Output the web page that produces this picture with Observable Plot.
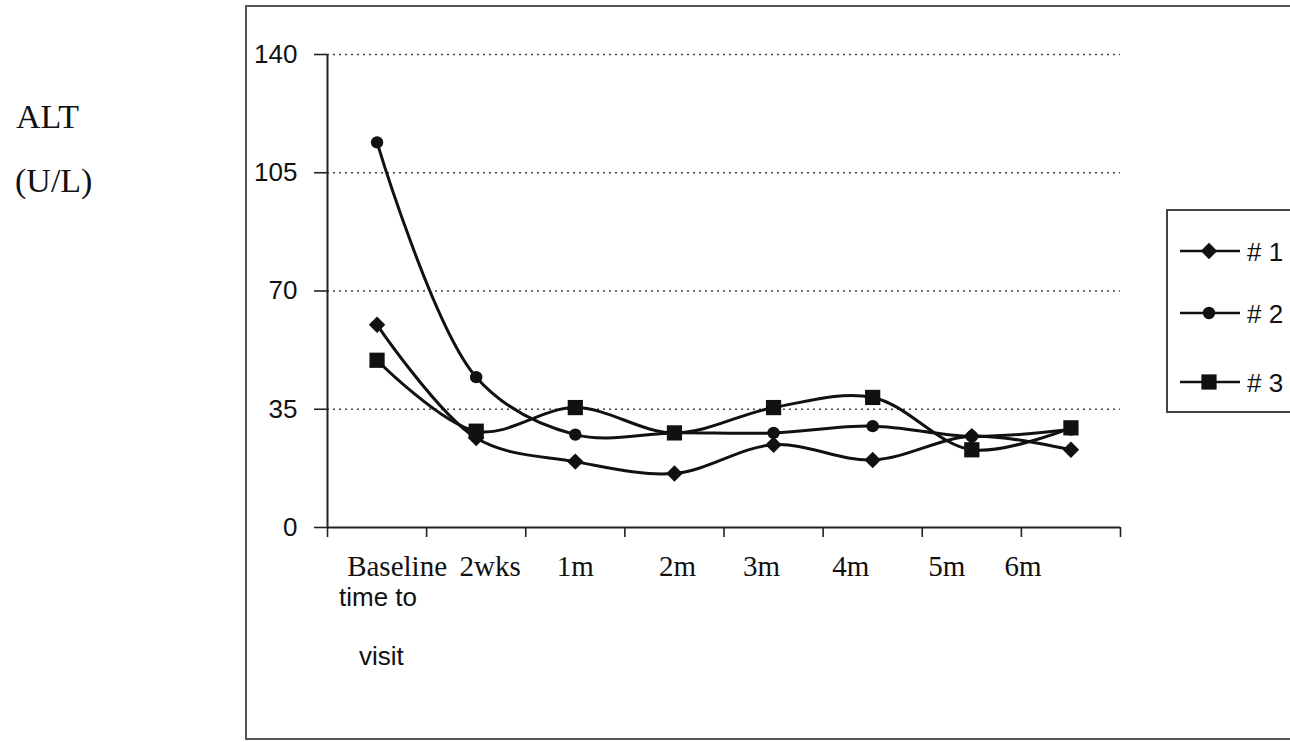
<!DOCTYPE html>
<html>
<head>
<meta charset="utf-8">
<script src="https://cdn.jsdelivr.net/npm/d3@7"></script>
<script src="https://cdn.jsdelivr.net/npm/@observablehq/plot@0.6"></script>
<style>
  html, body { margin: 0; padding: 0; background: #fff; overflow: hidden; }
  #wrap { position: relative; width: 1290px; height: 742px; overflow: hidden; }
  #wrap svg.plot { position: absolute; left: 0; top: 0; }
  .abs { position: absolute; white-space: nowrap; }
  .serif { font-family: "Liberation Serif", "Times New Roman", serif; color: #111; }
  .sans { font-family: "Liberation Sans", Arial, sans-serif; color: #111; }
</style>
</head>
<body>
<div id="wrap"></div>
<script>
// ---- data ----
const visits = ["Baseline", "2wks", "1m", "2m", "3m", "4m", "5m", "6m"];
const seriesNames = ["# 1", "# 2", "# 3"];
const patient1 = [60, 26.5, 19.5, 16, 24.5, 20, 27, 23];
const patient2 = [114, 44.5, 27.5, 28, 28, 30, 27, 29];
const patient3 = [49.5, 28.5, 35.5, 28, 35.5, 38.5, 23, 29.5];
const yTicks = [0, 35, 70, 105, 140];

// ---- layout / style (not data) ----
const symbols = ["diamond2", "circle", "square"];
const radii = [7.4, 6.2, 8.6];
const labelShift = [20, 14, 0, 3, -12, -22, -25, -48];

const allSeries = [patient1, patient2, patient3];
const rows = [];
allSeries.forEach((vals, s) => vals.forEach((v, i) => rows.push({series: seriesNames[s], i, visit: visits[i], v})));

const idx = visits.map((_, i) => i);
const bounds = d3.range(visits.length + 1).map(i => i - 0.5);

const marks = [
  Plot.ruleY(yTicks.filter(t => t > 0), {stroke: "#444", strokeWidth: 1.6, strokeDasharray: "2,4"}),
  Plot.axisY({ticks: yTicks, tickSize: 13, tickPadding: 17, fontSize: 26, label: null,
              fontFamily: "Liberation Sans, Arial, sans-serif", fill: "#111", stroke: "#222", strokeWidth: 1.6}),
  Plot.ruleX([-0.5], {stroke: "#222", strokeWidth: 2}),
  Plot.ruleY([0], {stroke: "#222", strokeWidth: 2}),
  Plot.axisX({ticks: bounds, tickSize: 10, tickFormat: () => "", label: null, stroke: "#222", strokeWidth: 1.6}),
  ...idx.map(i => Plot.axisX({ticks: [i], tickSize: 0, tickPadding: 28, dx: labelShift[i], tickFormat: j => visits[j],
              label: null, fontSize: 29, fontFamily: "Liberation Serif, Times New Roman, serif", fill: "#111"})),
];
seriesNames.forEach((name) => {
  const data = rows.filter(r => r.series === name);
  marks.push(Plot.line(data, {x: "i", y: "v", curve: "catmull-rom", stroke: "#111", strokeWidth: 3}));
});
seriesNames.forEach((name, s) => {
  const data = rows.filter(r => r.series === name);
  marks.push(Plot.dot(data, {x: "i", y: "v", symbol: () => symbols[s], r: radii[s], fill: "#111", stroke: "none"}));
});
const chart = Plot.plot({
  width: 1290,
  height: 742,
  marginLeft: 327,
  marginRight: 170,
  marginTop: 54,
  marginBottom: 215,
  x: {type: "linear", domain: [-0.5, visits.length - 0.5], axis: null},
  y: {domain: [0, 140], axis: null},
  style: {background: "transparent", overflow: "visible"},
  marks
});
chart.classList.add("plot");
const wrap = document.getElementById("wrap");

// outer chart border
const frame = document.createElement("div");
frame.className = "abs";
Object.assign(frame.style, {left: "245px", top: "5px", width: "1100px", height: "735px", border: "2px solid #555", boxSizing: "border-box"});
wrap.appendChild(frame);
wrap.appendChild(chart);

function addText(txt, cls, left, top, size) {
  const d = document.createElement("div");
  d.className = "abs " + cls;
  d.textContent = txt;
  Object.assign(d.style, {left: left + "px", top: top + "px", fontSize: size + "px", lineHeight: "1"});
  wrap.appendChild(d);
}
addText("ALT", "serif", 16, 100, 34);
addText("(U/L)", "serif", 15, 164, 34);
addText("time to", "sans", 339, 584, 26);
addText("visit", "sans", 359, 643, 26);

// legend
const leg = document.createElement("div");
leg.className = "abs";
Object.assign(leg.style, {left: "1166px", top: "209px", width: "200px", height: "204px", border: "2px solid #444", boxSizing: "border-box", background: "#fff"});
wrap.appendChild(leg);
const lsvg = d3.select(leg).append("svg").attr("width", 200).attr("height", 204).style("position", "absolute").style("left", "-2px").style("top", "-2px");
const symMap = {diamond2: d3.symbolDiamond2, circle: d3.symbolCircle, square: d3.symbolSquare};
const legY = [42, 104, 173];
seriesNames.forEach((name, s) => {
  const g = lsvg.append("g").attr("transform", `translate(0,${legY[s]})`);
  g.append("line").attr("x1", 14).attr("x2", 74).attr("stroke", "#111").attr("stroke-width", 2.6);
  g.append("path").attr("transform", "translate(43,0)")
    .attr("d", d3.symbol(symMap[symbols[s]], Math.PI * radii[s] * radii[s])()).attr("fill", "#111");
  g.append("text").attr("x", 81).attr("y", 1).attr("dy", "0.35em").attr("font-size", 26)
    .attr("font-family", "Liberation Sans, Arial, sans-serif").attr("fill", "#111").text(name);
});
</script>
</body>
</html>
